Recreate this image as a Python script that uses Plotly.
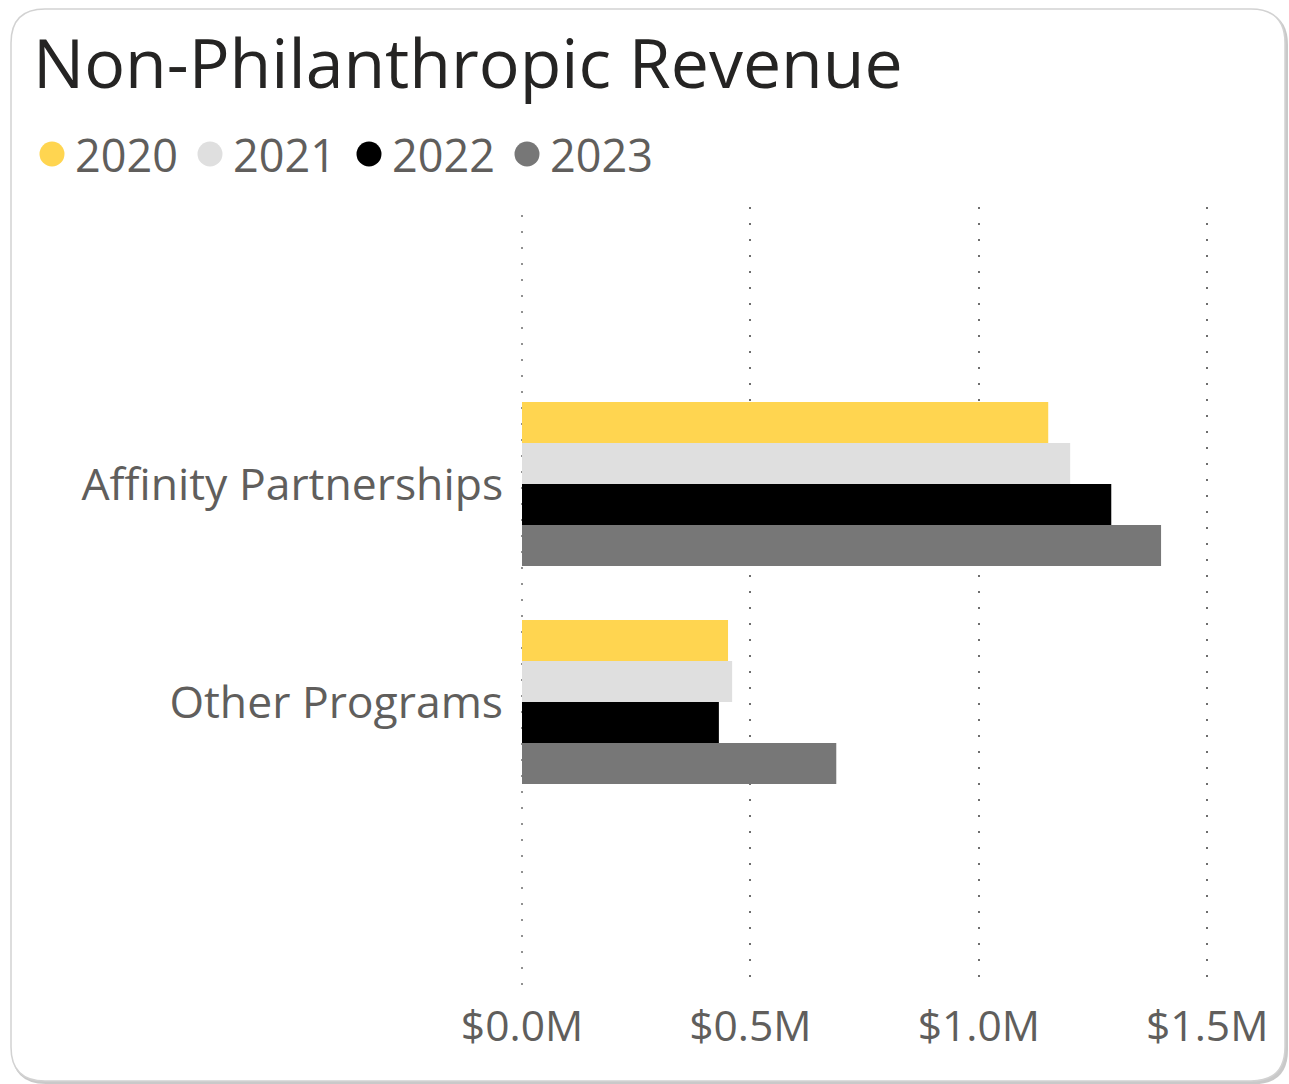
import plotly.graph_objects as go

# Revenue by program, in millions of dollars
categories = ["Affinity Partnerships", "Other Programs"]
years = ["2020", "2021", "2022", "2023"]
revenue_2020 = [1.152, 0.451]
revenue_2021 = [1.200, 0.460]
revenue_2022 = [1.290, 0.431]
revenue_2023 = [1.399, 0.688]
tick_values = [0.0, 0.5, 1.0, 1.5]
tick_labels = ["$0.0M", "$0.5M", "$1.0M", "$1.5M"]

series = [revenue_2020, revenue_2021, revenue_2022, revenue_2023]
colors = ["#FFD550", "#DFDFDF", "#000000", "#777777"]

W, H = 1289, 1084
M_L, M_R, M_T, M_B = 522, 39, 207, 99
PW, PH = W - M_L - M_R, H - M_T - M_B

FONT = "Open Sans"
TEXT = "#605E5C"
GRID = "#6E6E6E"

fig = go.Figure()

for year, vals, col in zip(years, series, colors):
    fig.add_trace(go.Bar(
        x=vals, y=categories, orientation="h", name=year,
        marker=dict(color=col, line=dict(width=0)),
        showlegend=False,
    ))


def px_to_paper(x, y):
    return (x - M_L) / PW, 1 - (y - M_T) / PH


def rounded_rect(x0, y0, x1, y1, r):
    def P(x, y):
        px, py = px_to_paper(x, y)
        return f"{px:.5f},{py:.5f}"
    return (
        f"M {P(x0 + r, y0)} L {P(x1 - r, y0)} Q {P(x1, y0)} {P(x1, y0 + r)} "
        f"L {P(x1, y1 - r)} Q {P(x1, y1)} {P(x1 - r, y1)} "
        f"L {P(x0 + r, y1)} Q {P(x0, y1)} {P(x0, y1 - r)} "
        f"L {P(x0, y0 + r)} Q {P(x0, y0)} {P(x0 + r, y0)} Z"
    )


shapes = [
    # card shadow and card
    dict(type="path", xref="paper", yref="paper", layer="below",
         path=rounded_rect(12, 11, 1288, 1084, 34),
         fillcolor="#C9C9C9", line=dict(width=0)),
    dict(type="path", xref="paper", yref="paper", layer="below",
         path=rounded_rect(11, 9, 1285, 1081, 34),
         fillcolor="#FFFFFF", line=dict(color="#D2D2D2", width=1.5)),
    # gridline at zero (left edge of the plot), unclipped
    dict(type="line", xref="paper", yref="paper", x0=0, x1=0, y0=0, y1=1,
         layer="below", line=dict(color=GRID, width=1.5, dash="2px,14px")),
]

# legend: round swatches followed by year labels
LEG_Y = 154
LEG_DOT_X = [52, 210, 369, 527]
annotations = []
for year, col, cx in zip(years, colors, LEG_DOT_X):
    x0, y0 = px_to_paper(cx - 12.5, LEG_Y - 12.5)
    x1, y1 = px_to_paper(cx + 12.5, LEG_Y + 12.5)
    shapes.append(dict(type="circle", xref="paper", yref="paper",
                       x0=x0, x1=x1, y0=y0, y1=y1,
                       fillcolor=col, line=dict(width=0)))
    tx, ty = px_to_paper(cx + 21, LEG_Y)
    annotations.append(dict(
        text=year, xref="paper", yref="paper", x=tx, y=ty,
        xanchor="left", yanchor="middle", showarrow=False,
        font=dict(family=FONT, size=45, color=TEXT),
    ))

fig.update_layout(
    width=W, height=H,
    margin=dict(l=M_L, r=M_R, t=M_T, b=M_B),
    paper_bgcolor="#FFFFFF",
    plot_bgcolor="rgba(0,0,0,0)",
    barmode="group", bargap=0.248, bargroupgap=0,
    font=dict(family=FONT, color=TEXT),
    showlegend=False,
    title=dict(
        text="Non-Philanthropic Revenue",
        font=dict(family=FONT, size=68, color="#252423"),
        xref="container", yref="container",
        x=33 / W, xanchor="left", y=1 - 64 / H, yanchor="middle",
    ),
    xaxis=dict(
        range=[0, PW / (2 * 228.4)],
        tickvals=tick_values, ticktext=tick_labels,
        showgrid=True, gridcolor=GRID, gridwidth=1.5,
        griddash="2px,14px", zeroline=False, showline=False,
        ticks="outside", ticklen=4, tickcolor="rgba(0,0,0,0)",
        tickfont=dict(family=FONT, size=42.5, color=TEXT),
        fixedrange=True,
    ),
    yaxis=dict(
        type="category", categoryorder="array", categoryarray=categories,
        range=[2.298, -1.271],
        showgrid=False, zeroline=False, showline=False,
        ticks="outside", ticklen=9, tickcolor="rgba(0,0,0,0)",
        tickfont=dict(family=FONT, size=44.5, color=TEXT),
        fixedrange=True,
    ),
    shapes=shapes,
    annotations=annotations,
)

fig.write_html("out.html")
